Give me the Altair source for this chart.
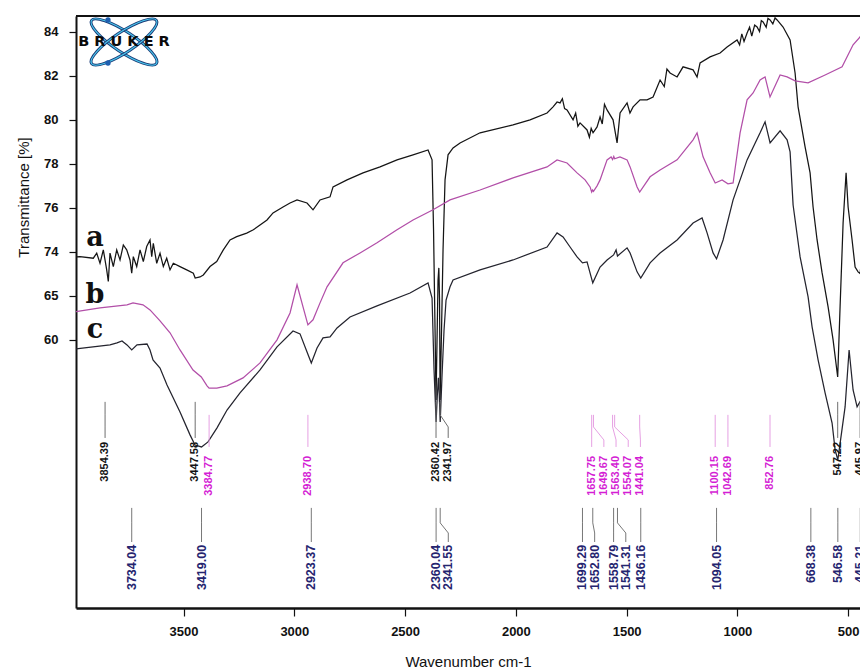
import altair as alt
import pandas as pd

# ---------------- spectra (wavenumber cm-1, stacked transmittance) ----------------
a_wn = [3985.6, 3967.5, 3907.5, 3892.1, 3877.2, 3862.3, 3847.0, 3839.8, 3832.1, 3817.2,
        3801.8, 3786.9, 3772.0, 3756.7, 3741.8, 3734.1, 3726.9, 3711.5, 3696.6, 3681.7,
        3666.4, 3651.5, 3643.8, 3636.6, 3621.2, 3606.3, 3591.4, 3576.1, 3561.2, 3546.3,
        3516.1, 3485.8, 3456.0, 3447.6, 3425.8, 3410.9, 3380.6, 3350.4, 3320.6, 3290.3,
        3260.1, 3214.9, 3185.1, 3154.9, 3123.3, 3096.2, 3051.0, 3019.4, 2987.8, 2942.7,
        2915.6, 2884.0, 2838.8, 2825.3, 2762.1, 2689.9, 2613.1, 2536.4, 2464.1, 2396.4,
        2378.3, 2371.6, 2364.8, 2360.42, 2355.8, 2351.3, 2347.7, 2344.5, 2341.97, 2335.5,
        2328.7, 2319.7, 2306.1, 2283.5, 2251.9, 2161.6, 2012.7, 1935.9, 1859.2, 1832.1,
        1814.0, 1800.5, 1790.0, 1780.0, 1768.9, 1741.8, 1730.0, 1720.0, 1710.2, 1678.6,
        1668.0, 1660.0, 1651.5, 1633.4, 1619.9, 1610.0, 1600.0, 1588.3, 1561.2, 1543.1,
        1529.6, 1498.0, 1485.0, 1470.9, 1439.3, 1407.7, 1380.6, 1349.0, 1330.0, 1318.0,
        1303.9, 1272.2, 1245.2, 1200.0, 1182.0, 1168.4, 1123.3, 1078.1, 1046.5, 1001.4,
        990.0, 980.0, 970.0, 956.2, 945.0, 935.0, 922.0, 911.1, 900.0, 892.0,
        884.0, 870.0, 862.0, 852.4, 840.0, 830.0, 820.7, 793.7, 762.1, 739.5,
        726.0, 694.4, 671.8, 658.3, 640.2, 617.6, 590.5, 568.0, 547.22, 536.4,
        522.8, 509.3, 500.2, 482.2, 468.6, 455.1, 445.97, 437.0]
a_t = [73.76, 73.77, 73.70, 73.93, 73.47, 74.08, 73.17, 72.64, 73.93, 73.32,
       74.08, 73.62, 74.30, 74.08, 73.62, 73.02, 73.77, 73.32, 74.08, 73.55,
       74.23, 74.53, 73.77, 74.38, 73.47, 73.93, 73.32, 73.70, 73.17, 73.47,
       73.32, 73.17, 73.02, 72.80, 72.85, 72.94, 73.32, 73.55, 74.08, 74.53,
       74.68, 74.84, 74.99, 75.21, 75.44, 75.76, 76.03, 76.21, 76.35, 76.21,
       75.90, 76.35, 76.49, 76.94, 77.26, 77.58, 77.85, 78.17, 78.40, 78.62,
       78.17, 74.99, 70.44, 67.26, 69.99, 72.71, 73.26, 71.80, 67.26, 70.44,
       74.08, 77.26, 78.40, 78.71, 78.94, 79.40, 79.76, 79.99, 80.30, 80.58,
       80.80, 80.76, 80.95, 80.50, 80.44, 79.99, 80.30, 79.70, 79.85, 79.53,
       79.20, 79.60, 79.40, 79.67, 80.12, 79.80, 80.70, 80.44, 79.99, 78.94,
       80.30, 80.76, 80.30, 80.58, 80.90, 80.90, 81.03, 81.80, 81.50, 82.30,
       82.12, 81.94, 82.40, 82.26, 81.94, 82.58, 82.85, 83.03, 83.30, 83.62,
       83.40, 83.90, 83.55, 83.94, 84.20, 83.80, 84.30, 84.21, 84.00, 84.50,
       84.44, 84.20, 84.60, 84.53, 84.35, 84.62, 84.53, 84.21, 83.62, 82.12,
       80.58, 78.76, 77.58, 76.03, 74.53, 73.03, 71.49, 69.99, 68.30, 71.49,
       75.30, 77.58, 76.03, 74.53, 73.30, 73.08, 73.00, 73.94]

b_wn = [3985.6, 3877.2, 3755.3, 3728.2, 3683.1, 3651.5, 3606.3, 3561.2, 3516.1, 3457.4,
        3420.0, 3394.0, 3384.77, 3350.0, 3303.9, 3231.6, 3154.9, 3078.1, 3019.4, 2987.8,
        2960.8, 2938.70, 2915.6, 2884.0, 2852.4, 2780.2, 2703.4, 2626.7, 2536.4, 2464.1,
        2373.8, 2297.1, 2161.6, 2012.7, 1859.2, 1814.0, 1768.9, 1723.7, 1687.6, 1665.0,
        1657.75, 1653.5, 1649.67, 1633.4, 1619.9, 1588.3, 1570.0, 1563.40, 1558.0, 1554.07,
        1530.0, 1498.0, 1484.4, 1452.8, 1441.04, 1394.1, 1349.0, 1272.2, 1200.0, 1182.0,
        1154.9, 1123.3, 1100.15, 1069.1, 1042.69, 1019.4, 987.8, 956.2, 929.1, 897.5,
        875.0, 852.76, 807.2, 775.6, 739.5, 680.8, 604.1, 527.3, 477.7, 446.1, 437.0]
b_t = [71.27, 71.44, 71.58, 71.67, 71.58, 71.35, 70.85, 70.31, 69.53, 68.62,
       68.30, 67.90, 67.79, 67.80, 67.90, 68.26, 68.94, 69.99, 71.21, 72.49,
       71.49, 70.67, 70.90, 71.67, 72.40, 73.49, 73.94, 74.40, 74.99, 75.44,
       75.90, 76.35, 76.80, 77.35, 77.85, 78.17, 78.03, 77.58, 77.26, 76.94,
       76.71, 76.80, 76.74, 76.99, 77.26, 78.17, 78.30, 78.18, 78.32, 78.22,
       78.30, 78.17, 77.85, 76.94, 76.71, 77.40, 77.71, 78.17, 79.08, 79.40,
       78.31, 77.58, 77.12, 77.26, 77.08, 77.12, 79.40, 80.90, 81.21, 81.80,
       81.94, 81.03, 82.03, 81.94, 81.76, 81.67, 82.03, 82.40, 83.40, 83.76, 83.95]

c_wn = [3985.6, 3908.8, 3832.1, 3800.5, 3777.9, 3755.3, 3734.04, 3710.2, 3665.0, 3651.5,
        3638.0, 3606.3, 3574.7, 3516.1, 3470.9, 3448.3, 3419.00, 3389.6, 3349.0, 3303.9,
        3245.2, 3154.9, 3078.1, 3005.9, 2974.3, 2942.7, 2923.37, 2897.5, 2870.5, 2838.8,
        2807.2, 2748.6, 2626.7, 2477.7, 2396.4, 2378.3, 2369.3, 2360.04, 2354.4, 2349.9,
        2345.8, 2341.55, 2333.2, 2324.2, 2315.1, 2297.1, 2283.5, 2161.6, 2012.7, 1859.2,
        1814.0, 1786.9, 1755.3, 1723.7, 1699.29, 1678.6, 1652.80, 1619.9, 1588.3, 1558.79,
        1547.6, 1541.31, 1498.0, 1484.4, 1452.8, 1436.16, 1394.1, 1349.0, 1272.2, 1200.0,
        1159.4, 1136.8, 1109.7, 1094.05, 1064.6, 1019.4, 956.2, 897.5, 875.0, 852.4,
        807.2, 775.6, 762.1, 748.5, 716.9, 680.8, 662.8, 635.7, 604.1, 572.5,
        558.9, 546.58, 513.8, 495.7, 477.7, 459.6, 441.6]
c_t = [69.58, 69.67, 69.76, 69.85, 69.94, 69.76, 69.53, 69.76, 69.80, 69.53,
       69.08, 68.71, 67.94, 66.71, 65.67, 65.21, 65.12, 65.35, 65.99, 66.80,
       67.58, 68.62, 69.67, 70.39, 70.26, 69.44, 68.94, 69.62, 70.08, 70.12,
       70.53, 71.03, 71.53, 72.12, 72.58, 71.89, 68.62, 66.26, 67.49, 68.26,
       67.49, 66.26, 68.39, 70.44, 71.80, 72.40, 72.71, 73.17, 73.62, 74.21,
       74.85, 74.67, 74.21, 73.76, 73.49, 73.53, 72.58, 73.30, 73.62, 73.85,
       74.08, 73.80, 74.17, 73.94, 73.08, 72.80, 73.49, 73.94, 74.53, 75.30,
       75.53, 74.85, 73.94, 73.67, 74.53, 76.35, 78.17, 79.40, 79.90, 78.94,
       79.49, 79.08, 78.53, 76.12, 73.76, 71.94, 70.58, 69.08, 67.58, 66.21,
       64.99, 64.53, 66.94, 69.53, 67.71, 66.94, 67.26]

# ---------------- peak picks ----------------
peaks_a = [3854.39, 3447.58, 2360.42, 2341.97, 547.22, 445.97]
peaks_b = [3384.77, 2938.70, 1657.75, 1649.67, 1563.40, 1554.07, 1441.04,
           1100.15, 1042.69, 852.76]
peaks_c = [3734.04, 3419.00, 2923.37, 2360.04, 2341.55, 1699.29, 1652.80,
           1558.79, 1541.31, 1436.16, 1094.05, 668.38, 546.58, 445.21]

# ---------------- axes ----------------
x_ticks = [500, 1000, 1500, 2000, 2500, 3000, 3500]
y_tick_vals = [70, 72, 74, 76, 78, 80, 82, 84]
y_tick_text = ["60", "65", "74", "76", "78", "80", "82", "84"]

SANS = "Liberation Sans"
COLORS = {"a": "#151515", "b": "#b24fa8", "c": "#24242e"}

x_scale = alt.Scale(domain=[446.5, 3985.6], reverse=True, zero=False, nice=False)
y_scale = alt.Scale(domain=[57.8, 84.71], zero=False, nice=False)

label_expr = "datum.label"
for v, s in zip(y_tick_vals, y_tick_text):
    label_expr = f"datum.value == {v} ? '{s}' : ({label_expr})"

x_axis = alt.Axis(values=x_ticks, format="d", grid=False, domain=True, domainColor="#111",
                  domainWidth=2.5, tickColor="#111", tickSize=8, tickWidth=1.2,
                  labelFont=SANS, labelFontSize=13, labelFontWeight="bold",
                  labelColor="#111", labelPadding=9,
                  title="Wavenumber cm-1", titleFont=SANS, titleFontSize=15,
                  titleFontWeight="normal", titleColor="#111", titleY=46,
                  titleBaseline="top")
y_axis = alt.Axis(values=y_tick_vals, labelExpr=label_expr, grid=False, domain=True,
                  domainColor="#111", domainWidth=2, tickColor="#111", tickSize=7,
                  tickWidth=1.2, labelFont=SANS, labelFontSize=13, labelFontWeight="bold",
                  labelColor="#111", labelPadding=11,
                  title="Transmittance [%]", titleFont=SANS, titleFontSize=15,
                  titleFontWeight="normal", titleColor="#111", titleAngle=270,
                  titleX=-48, titleY=181, titleAlign="center", titleBaseline="alphabetic")

# shared positional encodings for every data layer
X = alt.X("wn:Q", scale=x_scale, axis=x_axis)
Y = alt.Y("t:Q", scale=y_scale, axis=y_axis)

# ---------------- spectra layer ----------------
spec_rows = []
for name, wn, tt in (("a", a_wn, a_t), ("b", b_wn, b_t), ("c", c_wn, c_t)):
    for i, (w, v) in enumerate(zip(wn, tt)):
        spec_rows.append({"series": name, "i": i, "wn": w, "t": v})
spec = pd.DataFrame(spec_rows)

curves = alt.Chart(spec).mark_line(strokeWidth=1.25, clip=True).encode(
    x=X, y=Y,
    color=alt.Color("series:N", legend=None,
                    scale=alt.Scale(domain=list(COLORS), range=list(COLORS.values()))),
    order="i:Q",
)

# ---------------- peak markers and numbers ----------------
ROWS = {
    "a": dict(peaks=peaks_a, text="#141414", tick="#6e6e6e", size=11,
              levels=[67.17, 66.58, 66.03, 65.53], top=65.35),
    "b": dict(peaks=peaks_b, text="#d41ed4", tick="#e6a0e3", size=11,
              levels=[66.58, 66.03, 65.44, 65.12], top=64.71),
    "c": dict(peaks=peaks_c, text="#25246f", tick="#777777", size=12.5,
              levels=[62.35, 61.67, 61.21, 60.80], top=60.67),
}
GAP = 55.0  # minimal spacing between neighbouring numbers, in cm-1


def spread(peaks):
    """Shift crowded numbers towards lower wavenumber so they do not overlap."""
    out = {}
    last = None
    for w in sorted(peaks, reverse=True):
        p = w if last is None else min(w, last - GAP)
        out[w] = p
        last = p
    return out


marker_layers = []
for name, cfg in ROWS.items():
    pos = spread(cfg["peaks"])
    seg, txt = [], []
    for j, w in enumerate(cfg["peaks"]):
        lx = pos[w]
        for k, (xx, yy) in enumerate(zip([w, w, lx, lx], cfg["levels"])):
            seg.append({"id": j, "k": k, "wn": xx, "t": yy})
        txt.append({"wn": lx, "t": cfg["top"], "label": f"{w:.2f}"})
    marker_layers.append(
        alt.Chart(pd.DataFrame(seg)).mark_line(strokeWidth=1, color=cfg["tick"], clip=True)
        .encode(x=X, y=Y, detail="id:N", order="k:Q"))
    marker_layers.append(
        alt.Chart(pd.DataFrame(txt)).mark_text(angle=270, align="right", baseline="middle",
                                               font=SANS, fontSize=cfg["size"],
                                               fontWeight="bold", color=cfg["text"])
        .encode(x=X, y=Y, text="label:N"))

# ---------------- trace letters ----------------
letters = pd.DataFrame({
    "name": ["a", "b", "c"],
    "wn": [3900.0] * 3,
    "t": [a_t[0] + 0.5, b_t[0] + 0.4, c_t[0] + 0.5],
})
letter_layer = alt.Chart(letters).mark_text(font="DejaVu Serif", fontSize=27,
                                            fontWeight="bold", color="#111",
                                            align="center", baseline="alphabetic").encode(
    x=X, y=Y, text="name:N",
)

# ---------------- frame top edge ----------------
one = pd.DataFrame({"k": [0]})
frame_top = alt.Chart(one).mark_rule(color="#111", strokeWidth=2).encode(
    x=alt.value(0), x2=alt.value(784), y=alt.value(0))

# ---------------- instrument logo ----------------
ORBIT = ("M -1 0 C -1 -0.14 -0.552 -0.26 0 -0.26 C 0.552 -0.26 1 -0.14 1 0 "
         "C 1 0.14 0.552 0.26 0 0.26 C -0.552 0.26 -1 0.14 -1 0 Z")
logo_layers = []
for ang in (33.5, 146.5):
    logo_layers.append(alt.Chart(one).mark_point(shape=ORBIT, size=6084, angle=ang,
                                                 filled=False, color="#1d3d78",
                                                 strokeWidth=3, opacity=1)
                       .encode(x=alt.value(48), y=alt.value(26)))
    logo_layers.append(alt.Chart(one).mark_point(shape=ORBIT, size=6084, angle=ang,
                                                 filled=False, color="#49c8ee",
                                                 strokeWidth=1.1, opacity=1)
                       .encode(x=alt.value(48), y=alt.value(26)))
for dot_y in (4, 47):
    logo_layers.append(alt.Chart(one).mark_point(filled=True, size=28, color="#1f5fb0",
                                                 opacity=1)
                       .encode(x=alt.value(32), y=alt.value(dot_y)))
logo_layers.append(alt.Chart(one).mark_text(text="B R U K E R", font="DejaVu Sans",
                                            fontSize=14.5, fontWeight="bold", color="#0a0a0a",
                                            align="center", baseline="middle")
                   .encode(x=alt.value(48), y=alt.value(26)))

chart = alt.layer(curves, *marker_layers, letter_layer, frame_top, *logo_layers).properties(
    width=784, height=592,
    autosize=alt.AutoSizeParams(type="none"),
    padding={"left": 76, "top": 16, "right": 0, "bottom": 59},
).configure_view(strokeOpacity=0).configure(background="white")

chart.save("out.html", embed_options={"renderer": "svg", "actions": False})
